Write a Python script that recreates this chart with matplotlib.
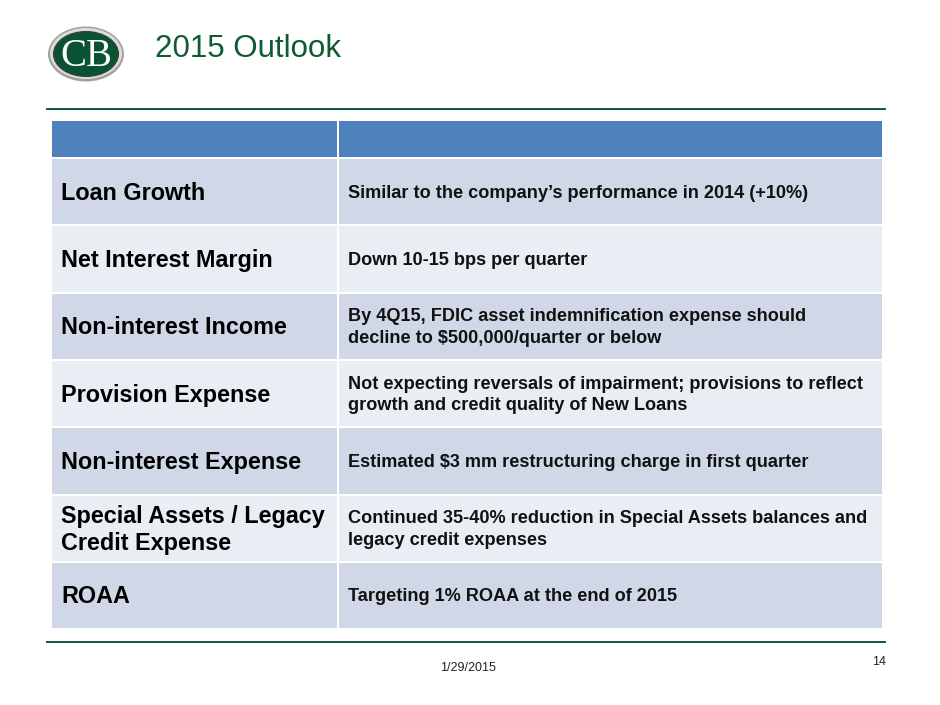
import matplotlib
matplotlib.use('Agg')
from matplotlib import pyplot as plt
from matplotlib.patches import Rectangle, Ellipse

# Slide content
title = '2015 Outlook'
row_labels = ['Loan Growth', 'Net Interest Margin', 'Non-interest Income',
              'Provision Expense', 'Non-interest Expense',
              'Special Assets / Legacy\nCredit Expense', 'ROAA']
row_texts = ['Similar to the company\u2019s performance in 2014 (+10%)',
             'Down 10-15 bps per quarter',
             'By 4Q15, FDIC asset indemnification expense should\ndecline to $500,000/quarter or below',
             'Not expecting reversals of impairment; provisions to reflect\ngrowth and credit quality of New Loans',
             'Estimated $3 mm restructuring charge in first quarter',
             'Continued 35-40% reduction in Special Assets balances and\nlegacy credit expenses',
             'Targeting 1% ROAA at the end of 2015']
footer_date = '1/29/2015'
page_number = '14'

plt.rcParams['font.family'] = ['Liberation Sans', 'DejaVu Sans']

fig = plt.figure(figsize=(9.4, 7.05), dpi=100)
ax = fig.add_axes([0, 0, 1, 1])
ax.set_xlim(0, 940)
ax.set_ylim(705, 0)
ax.axis('off')

green = '#0E5A32'

# Logo: silver rim, green oval, white monogram
ax.add_patch(Ellipse((86, 54), 76, 55, facecolor='#9EA39E', edgecolor='none'))
ax.add_patch(Ellipse((86, 53.5), 72, 51, facecolor='#DADDDA', edgecolor='none'))
ax.add_patch(Ellipse((86, 54), 65, 45, facecolor='#0B5233', edgecolor='#3A3F3A', lw=0.8))
ax.text(86, 56, 'CB', ha='center', va='center', fontsize=28, color='white',
        family=['Liberation Serif', 'DejaVu Serif'])

# Title
ax.text(155, 49, title, ha='left', va='center', fontsize=22.5, color=green)

# Rule lines
ax.plot([47, 885], [109, 109], color=green, lw=1.4)
ax.plot([47, 885], [642, 642], color=green, lw=1.4)

# Table
x0, xm, x1 = 52, 338, 882
header_top, header_h = 121, 36
row_top, row_h, gap = 159, 67.3, 2
ax.add_patch(Rectangle((x0, header_top), xm - x0 - 1, header_h, facecolor='#4F81BD', edgecolor='none'))
ax.add_patch(Rectangle((xm + 1, header_top), x1 - xm - 1, header_h, facecolor='#4F81BD', edgecolor='none'))

for i, (lab, txt) in enumerate(zip(row_labels, row_texts)):
    top = row_top + i * row_h
    color = '#D0D8E8' if i % 2 == 0 else '#E9EDF4'
    h = row_h - gap
    ax.add_patch(Rectangle((x0, top), xm - x0 - 1, h, facecolor=color, edgecolor='none'))
    ax.add_patch(Rectangle((xm + 1, top), x1 - xm - 1, h, facecolor=color, edgecolor='none'))
    cy = top + h / 2 + 1.5
    ax.text(61, cy, lab, ha='left', va='center', fontsize=16.8, fontweight='bold',
            color='black', linespacing=1.21)
    ax.text(348, cy, txt, ha='left', va='center', fontsize=13.1, fontweight='bold',
            color='#111111', linespacing=1.36)

# Footer
ax.text(440, 668, footer_date, ha='left', va='center', fontsize=9, color='#222222')
ax.text(886, 662, page_number, ha='right', va='center', fontsize=9, color='#222222')

fig.savefig('out.png', dpi=100)
